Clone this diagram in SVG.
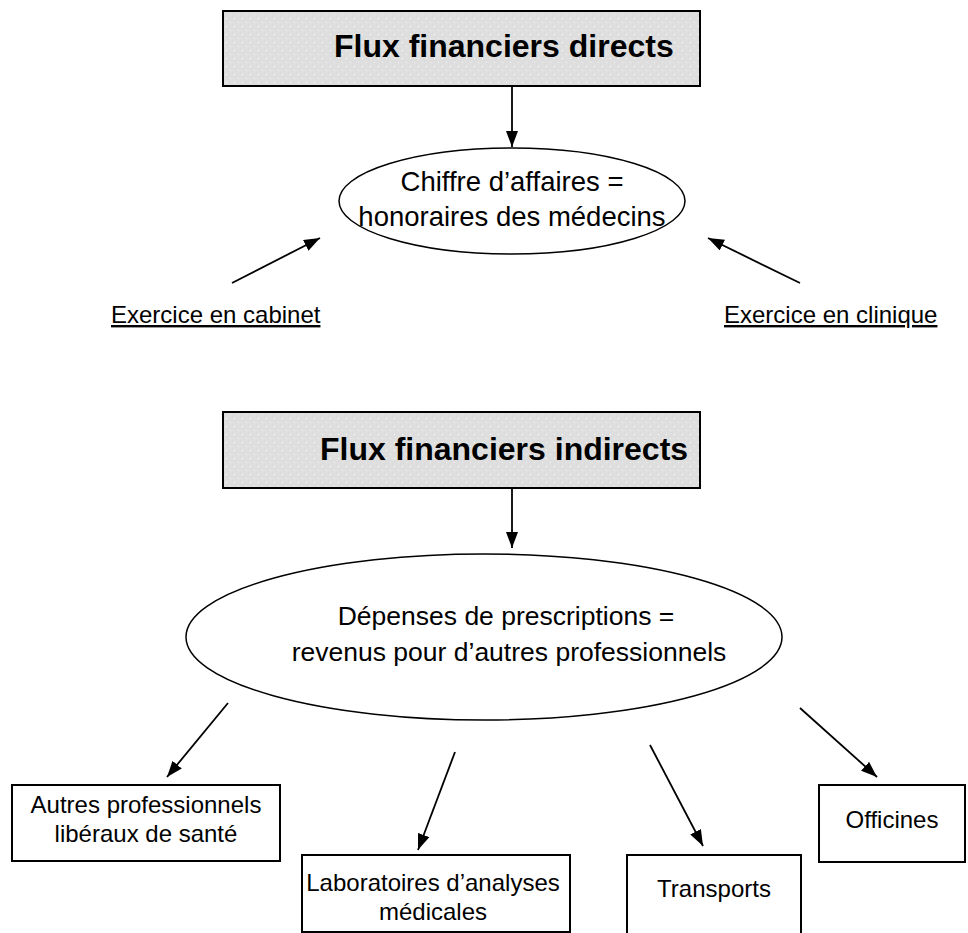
<svg xmlns="http://www.w3.org/2000/svg" width="968" height="933" viewBox="0 0 968 933">
<defs>
<pattern id="dots" width="8" height="8" patternUnits="userSpaceOnUse">
<rect width="8" height="8" fill="#dedede"/>
<rect x="2" y="2" width="1" height="1" fill="#ffffff"/>
<rect x="6" y="6" width="1" height="1" fill="#f4f4f4"/>
</pattern>
<marker id="ah" viewBox="0 0 16 12" refX="16" refY="6" markerWidth="16" markerHeight="12" markerUnits="userSpaceOnUse" orient="auto">
<path d="M0,0 L16,6 L0,12 z" fill="#000"/>
</marker>
<style>
.title{fill:url(#dots);stroke:#000;stroke-width:2}
.tt{font-family:"Liberation Sans",Arial,sans-serif;font-weight:bold;font-size:32px;fill:#000}
.el{fill:#fff;stroke:#000;stroke-width:1.5}
.et{font-family:"Liberation Sans",Arial,sans-serif;font-size:26.5px;fill:#000;text-anchor:middle}
.et1{font-family:"Liberation Sans",Arial,sans-serif;font-size:27.5px;fill:#000;text-anchor:middle}
.bx{fill:#fff;stroke:#000;stroke-width:2}
.bt{font-family:"Liberation Sans",Arial,sans-serif;font-size:24px;fill:#000;text-anchor:middle}
.lb{font-family:"Liberation Sans",Arial,sans-serif;font-size:24px;fill:#000;text-decoration:underline}
.cn{stroke:#000;stroke-width:1.8;fill:none;marker-end:url(#ah)}
</style>
</defs>
<g id="connectors">
<line class="cn" x1="512" y1="86" x2="512" y2="147"/>
<line class="cn" x1="232" y1="283" x2="320" y2="238"/>
<line class="cn" x1="800" y1="283" x2="708" y2="238"/>
<line class="cn" x1="512" y1="488" x2="512" y2="548"/>
<line class="cn" x1="228" y1="703" x2="167" y2="777"/>
<line class="cn" x1="455" y1="752" x2="418" y2="850"/>
<line class="cn" x1="650" y1="745" x2="703" y2="846"/>
<line class="cn" x1="800" y1="708" x2="877" y2="777"/>
</g>
<g id="title-direct">
<rect class="title" x="223" y="11" width="477" height="75"/>
<text class="tt" x="334" y="57">Flux financiers directs</text>
</g>
<g id="ellipse-ca">
<ellipse class="el" cx="512" cy="201" rx="173" ry="53"/>
<text class="et1" x="512" y="191">Chiffre d’affaires =</text>
<text class="et1" x="512" y="226">honoraires des médecins</text>
</g>
<g id="label-cabinet">
<text class="lb" x="111" y="323">Exercice en cabinet</text>
</g>
<g id="label-clinique">
<text class="lb" x="724" y="323">Exercice en clinique</text>
</g>
<g id="title-indirect">
<rect class="title" x="223" y="412" width="477" height="76"/>
<text class="tt" x="320" y="460">Flux financiers indirects</text>
</g>
<g id="ellipse-prescriptions">
<ellipse class="el" cx="484" cy="637" rx="298" ry="83"/>
<text class="et" x="506" y="625">Dépenses de prescriptions =</text>
<text class="et" x="509" y="661">revenus pour d’autres professionnels</text>
</g>
<g id="box-autres">
<rect class="bx" x="12" y="785" width="268" height="76"/>
<text class="bt" x="146" y="813">Autres professionnels</text>
<text class="bt" x="146" y="842">libéraux de santé</text>
</g>
<g id="box-labo">
<rect class="bx" x="302" y="855" width="268" height="77"/>
<text class="bt" x="433" y="891">Laboratoires d’analyses</text>
<text class="bt" x="433" y="920">médicales</text>
</g>
<g id="box-transports">
<rect class="bx" x="627" y="855" width="174" height="90"/>
<text class="bt" x="714" y="897">Transports</text>
</g>
<g id="box-officines">
<rect class="bx" x="819" y="785" width="146" height="77"/>
<text class="bt" x="892" y="828">Officines</text>
</g>
</svg>
